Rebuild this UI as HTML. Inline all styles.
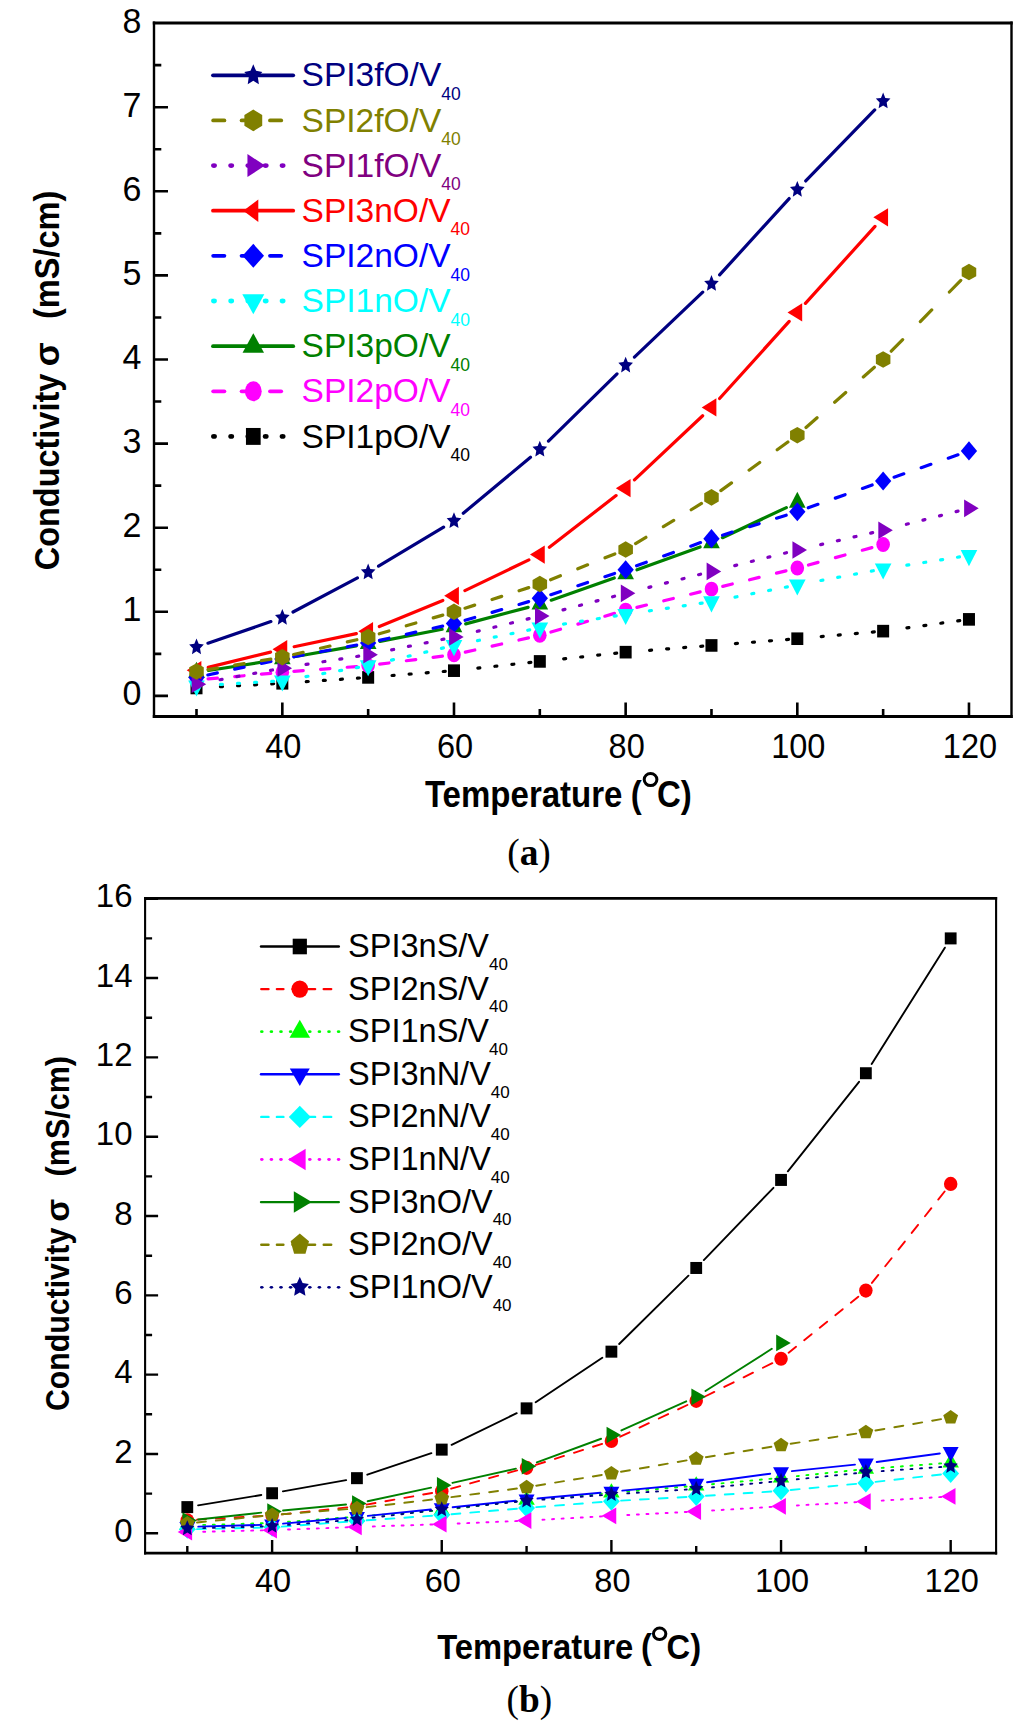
<!DOCTYPE html>
<html><head><meta charset="utf-8"><style>
html,body{margin:0;padding:0;background:#fff;width:1024px;height:1728px;overflow:hidden;}
svg{display:block;}
text{font-family:"Liberation Sans",sans-serif;}
</style></head><body>
<svg width="1024" height="1728" viewBox="0 0 1024 1728">
<rect width="1024" height="1728" fill="#fff"/>
<path d="M152.8,23H1012.7 M152.8,716.4H1012.7" stroke="#000" stroke-width="3" fill="none"/>
<path d="M154,21.5V717.9 M1011.5,21.5V717.9" stroke="#000" stroke-width="2.4" fill="none"/>
<path d="M282.33,716.4V702.4M453.99,716.4V702.4M625.65,716.4V702.4M797.31,716.4V702.4M968.97,716.4V702.4M196.5,716.4V709.1M368.16,716.4V709.1M539.82,716.4V709.1M711.48,716.4V709.1M883.14,716.4V709.1M154,695.9H168M154,611.8H168M154,527.7H168M154,443.6H168M154,359.5H168M154,275.4H168M154,191.3H168M154,107.2H168M154,653.85H161.3M154,569.75H161.3M154,485.65H161.3M154,401.55H161.3M154,317.45H161.3M154,233.35H161.3M154,149.25H161.3M154,65.15H161.3" stroke="#000" stroke-width="2.6" fill="none"/>
<path d="M220.46,686.68L222.46,686.57M237.54,685.74L239.54,685.63M254.61,684.81L256.61,684.7M271.69,683.87L273.68,683.76M306.27,681.64L308.27,681.51M323.33,680.47L325.33,680.34M340.39,679.3L342.39,679.17M357.45,678.13L359.45,678M392.09,675.52L394.08,675.37M409.13,674.19L411.13,674.03M426.18,672.85L428.18,672.69M443.23,671.51L445.22,671.36M477.85,668.1L479.84,667.88M494.85,666.27L496.84,666.05M511.85,664.43L513.84,664.22M528.86,662.6L530.84,662.39M563.68,658.85L565.67,658.63M580.68,657.01L582.67,656.8M597.68,655.18L599.67,654.97M614.69,653.35L616.67,653.14M649.58,650.29L651.57,650.14M666.62,648.96L668.62,648.8M683.67,647.62L685.67,647.46M700.72,646.28L702.71,646.13M735.41,643.56L737.4,643.41M752.45,642.23L754.45,642.07M769.5,640.89L771.5,640.74M786.55,639.56L788.54,639.4M821.22,636.6L823.21,636.43M838.25,635.1L840.24,634.93M855.29,633.6L857.28,633.42M872.32,632.1L874.31,631.92M906.92,627.88L908.9,627.61M923.86,625.56L925.84,625.29M940.8,623.23L942.78,622.96M957.74,620.91L959.72,620.64" stroke="#000000" stroke-width="3.2" stroke-linecap="round" fill="none"/>
<rect x="190.5" y="681.69" width="12" height="12.6" fill="#000000"/>
<rect x="276.33" y="676.99" width="12" height="12.6" fill="#000000"/>
<rect x="362.16" y="671.1" width="12" height="12.6" fill="#000000"/>
<rect x="447.99" y="664.37" width="12" height="12.6" fill="#000000"/>
<rect x="533.82" y="655.12" width="12" height="12.6" fill="#000000"/>
<rect x="619.65" y="645.87" width="12" height="12.6" fill="#000000"/>
<rect x="705.48" y="639.14" width="12" height="12.6" fill="#000000"/>
<rect x="791.31" y="632.41" width="12" height="12.6" fill="#000000"/>
<rect x="877.14" y="624.84" width="12" height="12.6" fill="#000000"/>
<rect x="962.97" y="613.07" width="12" height="12.6" fill="#000000"/>
<path d="M208.06,678.9L217.39,678.08M234.72,676.55L244.06,675.73M261.39,674.2L270.72,673.38M293.89,671.45L303.22,670.71M320.55,669.36L329.88,668.62M347.21,667.27L356.54,666.53M379.67,664.16L389.03,662.97M406.37,660.76L415.73,659.56M433.07,657.36L442.43,656.16M465.31,652.14L474.79,650M492.14,646.09L501.62,643.96M518.97,640.05L528.45,637.91M550.95,632.08L560.54,629.26M577.91,624.15L587.5,621.33M604.88,616.22L614.47,613.41M636.92,607.36L646.43,605.03M663.78,600.78L673.29,598.45M690.65,594.2L700.16,591.87M722.75,586.33L732.26,584M749.61,579.75L759.12,577.42M776.48,573.17L785.99,570.84M808.5,565L818.05,562.38M835.42,557.61L844.98,554.99M862.34,550.23L871.9,547.6" stroke="#FF00FF" stroke-width="3.2" stroke-linecap="round" fill="none"/>
<ellipse cx="196.5" cy="679.92" rx="6.8" ry="7.45" fill="#FF00FF"/>
<ellipse cx="282.33" cy="672.35" rx="6.8" ry="7.45" fill="#FF00FF"/>
<ellipse cx="368.16" cy="665.62" rx="6.8" ry="7.45" fill="#FF00FF"/>
<ellipse cx="453.99" cy="654.69" rx="6.8" ry="7.45" fill="#FF00FF"/>
<ellipse cx="539.82" cy="635.35" rx="6.8" ry="7.45" fill="#FF00FF"/>
<ellipse cx="625.65" cy="610.12" rx="6.8" ry="7.45" fill="#FF00FF"/>
<ellipse cx="711.48" cy="589.09" rx="6.8" ry="7.45" fill="#FF00FF"/>
<ellipse cx="797.31" cy="568.07" rx="6.8" ry="7.45" fill="#FF00FF"/>
<ellipse cx="883.14" cy="544.52" rx="6.8" ry="7.45" fill="#FF00FF"/>
<path d="M208.45,670.48L270.38,660.77M294.25,656.79L356.24,645.86M380.03,641.43L442.12,629.26M465.69,623.84L528.12,607.33M551.23,600.21L614.24,577.98M637.03,569.83L700.1,546.96M722.43,537.69L786.36,507.62" stroke="#008000" stroke-width="3.2" stroke-linecap="round" fill="none"/>
<path d="M196.5,661.65 L204.81,677.7 L188.19,677.7Z" fill="#008000"/>
<path d="M282.33,648.2 L290.64,664.25 L274.02,664.25Z" fill="#008000"/>
<path d="M368.16,633.06 L376.47,649.11 L359.85,649.11Z" fill="#008000"/>
<path d="M453.99,616.24 L462.3,632.29 L445.68,632.29Z" fill="#008000"/>
<path d="M539.82,593.53 L548.13,609.58 L531.51,609.58Z" fill="#008000"/>
<path d="M625.65,563.25 L633.96,579.3 L617.34,579.3Z" fill="#008000"/>
<path d="M711.48,532.14 L719.79,548.19 L703.17,548.19Z" fill="#008000"/>
<path d="M797.31,491.77 L805.62,507.82 L789,507.82Z" fill="#008000"/>
<path d="M220.46,684.4L222.46,684.28M237.53,683.4L239.53,683.28M254.6,682.39L256.6,682.27M271.67,681.39L273.67,681.27M305.97,676.59L307.93,676.25M322.81,673.62L324.77,673.28M339.65,670.65L341.61,670.31M356.49,667.68L358.46,667.34M391.52,660.13L393.47,659.67M408.17,656.22L410.12,655.76M424.81,652.3L426.76,651.84M441.46,648.39L443.41,647.93M477.5,640.6L479.46,640.2M494.25,637.16L496.21,636.75M511,633.71L512.95,633.31M527.74,630.26L529.7,629.86M563.53,624.06L565.51,623.75M580.42,621.41L582.4,621.1M597.32,618.76L599.29,618.46M614.21,616.12L616.19,615.81M649.39,610.83L651.37,610.54M666.31,608.35L668.29,608.06M683.23,605.86L685.21,605.57M700.15,603.37L702.13,603.08M735.03,597.09L736.99,596.71M751.81,593.8L753.78,593.42M768.59,590.52L770.56,590.13M785.37,587.23L787.34,586.84M820.9,580.5L822.87,580.13M837.72,577.37L839.68,577M854.53,574.24L856.49,573.87M871.34,571.11L873.3,570.74M906.85,565.19L908.83,564.88M923.74,562.54L925.72,562.23M940.64,559.89L942.61,559.59M957.53,557.25L959.51,556.94" stroke="#00FFFF" stroke-width="3.2" stroke-linecap="round" fill="none"/>
<path d="M196.5,696.51 L204.81,680.46 L188.19,680.46Z" fill="#00FFFF"/>
<path d="M282.33,691.46 L290.64,675.41 L274.02,675.41Z" fill="#00FFFF"/>
<path d="M368.16,676.32 L376.47,660.27 L359.85,660.27Z" fill="#00FFFF"/>
<path d="M453.99,656.14 L462.3,640.09 L445.68,640.09Z" fill="#00FFFF"/>
<path d="M539.82,638.48 L548.13,622.43 L531.51,622.43Z" fill="#00FFFF"/>
<path d="M625.65,625.02 L633.96,608.97 L617.34,608.97Z" fill="#00FFFF"/>
<path d="M711.48,612.41 L719.79,596.36 L703.17,596.36Z" fill="#00FFFF"/>
<path d="M797.31,595.59 L805.62,579.54 L789,579.54Z" fill="#00FFFF"/>
<path d="M883.14,579.61 L891.45,563.56 L874.83,563.56Z" fill="#00FFFF"/>
<path d="M968.97,566.15 L977.28,550.1 L960.66,550.1Z" fill="#00FFFF"/>
<path d="M207.84,674.95L217.3,672.91M234.66,669.17L244.12,667.13M261.47,663.39L270.94,661.35M293.73,656.77L303.16,655.02M320.51,651.79L329.93,650.03M347.28,646.8L356.7,645.05M379.48,640.37L388.96,638.23M406.31,634.32L415.79,632.18M433.14,628.27L442.62,626.14M465.12,620.3L474.71,617.48M492.08,612.38L501.67,609.56M519.05,604.45L528.64,601.63M550.83,594.68L560.49,591.46M577.87,585.67L587.54,582.45M604.92,576.65L614.59,573.43M636.56,565.8L646.28,562.27M663.67,555.96L673.4,552.44M690.79,546.13L700.52,542.61M722.55,535.16L732.18,532.14M749.55,526.69L759.18,523.68M776.56,518.23L786.19,515.21M808.23,507.81L817.95,504.34M835.34,498.12L845.06,494.64M862.45,488.43L872.16,484.95M894.09,477.18L903.79,473.78M921.18,467.68L930.88,464.28M948.27,458.18L957.97,454.78" stroke="#0000FF" stroke-width="3.2" stroke-linecap="round" fill="none"/>
<path d="M196.5,667.85 L204.65,677.4 L196.5,686.95 L188.35,677.4Z" fill="#0000FF"/>
<path d="M282.33,649.35 L290.48,658.9 L282.33,668.45 L274.18,658.9Z" fill="#0000FF"/>
<path d="M368.16,633.37 L376.31,642.92 L368.16,652.47 L360.01,642.92Z" fill="#0000FF"/>
<path d="M453.99,614.02 L462.14,623.57 L453.99,633.12 L445.84,623.57Z" fill="#0000FF"/>
<path d="M539.82,588.79 L547.97,598.34 L539.82,607.89 L531.67,598.34Z" fill="#0000FF"/>
<path d="M625.65,560.2 L633.8,569.75 L625.65,579.3 L617.5,569.75Z" fill="#0000FF"/>
<path d="M711.48,529.08 L719.63,538.63 L711.48,548.18 L703.33,538.63Z" fill="#0000FF"/>
<path d="M797.31,502.17 L805.46,511.72 L797.31,521.27 L789.16,511.72Z" fill="#0000FF"/>
<path d="M883.14,471.47 L891.29,481.02 L883.14,490.57 L874.99,481.02Z" fill="#0000FF"/>
<path d="M968.97,441.37 L977.12,450.92 L968.97,460.47 L960.82,450.92Z" fill="#0000FF"/>
<path d="M208.25,667.37L270.58,652.1M294.17,646.73L356.32,633.64M379.35,626.54L442.8,600.43M464.9,590.58L528.91,559.85M549.39,547.21L616.08,495.58M634.46,479.88L702.67,415.73M719.59,398.46L789.2,321.38M805.42,303.42L875.03,226.35" stroke="#FF0000" stroke-width="3.2" stroke-linecap="round" fill="none"/>
<path d="M186.7,670.25 L201.4,661.07 L201.4,679.43Z" fill="#FF0000"/>
<path d="M272.53,649.22 L287.23,640.04 L287.23,658.4Z" fill="#FF0000"/>
<path d="M358.36,631.14 L373.06,621.96 L373.06,640.32Z" fill="#FF0000"/>
<path d="M444.19,595.82 L458.89,586.64 L458.89,605Z" fill="#FF0000"/>
<path d="M530.02,554.61 L544.72,545.43 L544.72,563.79Z" fill="#FF0000"/>
<path d="M615.85,488.17 L630.55,478.99 L630.55,497.35Z" fill="#FF0000"/>
<path d="M701.68,407.44 L716.38,398.26 L716.38,416.62Z" fill="#FF0000"/>
<path d="M787.51,312.4 L802.21,303.22 L802.21,321.58Z" fill="#FF0000"/>
<path d="M873.34,217.37 L888.04,208.19 L888.04,226.55Z" fill="#FF0000"/>
<path d="M220.09,679.73L222.06,679.37M236.91,676.6L238.87,676.24M253.72,673.47L255.68,673.11M270.53,670.34L272.49,669.98M306.04,664.43L308.02,664.12M322.93,661.78L324.91,661.47M339.83,659.13L341.8,658.82M356.72,656.48L358.7,656.17M391.67,649.85L393.63,649.45M408.42,646.41L410.38,646M425.17,642.96L427.12,642.56M441.91,639.51L443.87,639.11M477.3,631.32L479.24,630.84M493.91,627.25L495.85,626.78M510.52,623.18L512.46,622.71M527.13,619.11L529.07,618.64M563.02,609.87L564.96,609.36M579.55,605.49L581.49,604.98M596.08,601.12L598.02,600.61M612.62,596.75L614.55,596.23M648.91,587.37L650.85,586.88M665.48,583.15L667.42,582.66M682.05,578.93L683.99,578.44M698.62,574.71L700.56,574.21M734.76,565.61L736.7,565.13M751.35,561.47L753.29,560.98M767.94,557.32L769.88,556.84M784.53,553.18L786.47,552.69M820.7,544.6L822.65,544.15M837.36,540.76L839.31,540.32M854.03,536.93L855.97,536.48M870.69,533.09L872.64,532.64M906.4,524.3L908.34,523.8M922.97,520.08L924.91,519.58M939.54,515.85L941.48,515.36M956.11,511.63L958.05,511.14" stroke="#8000C0" stroke-width="3.2" stroke-linecap="round" fill="none"/>
<path d="M206.2,684.13 L191.65,675.29 L191.65,692.96Z" fill="#8000C0"/>
<path d="M292.03,668.15 L277.48,659.31 L277.48,676.98Z" fill="#8000C0"/>
<path d="M377.86,654.69 L363.31,645.86 L363.31,663.52Z" fill="#8000C0"/>
<path d="M463.69,637.03 L449.14,628.2 L449.14,645.86Z" fill="#8000C0"/>
<path d="M549.52,616 L534.97,607.17 L534.97,624.84Z" fill="#8000C0"/>
<path d="M635.35,593.3 L620.8,584.46 L620.8,602.13Z" fill="#8000C0"/>
<path d="M721.18,571.43 L706.63,562.6 L706.63,580.27Z" fill="#8000C0"/>
<path d="M807.01,549.99 L792.46,541.15 L792.46,558.82Z" fill="#8000C0"/>
<path d="M892.84,530.22 L878.29,521.39 L878.29,539.06Z" fill="#8000C0"/>
<path d="M978.67,508.36 L964.12,499.52 L964.12,517.19Z" fill="#8000C0"/>
<path d="M207.94,669.61L217.35,668.04M234.69,665.15L244.09,663.58M261.43,660.7L270.83,659.13M293.62,654.56L303.12,652.33M320.47,648.24L329.97,646.01M347.32,641.93L356.81,639.7M379.29,633.76L388.88,630.94M406.25,625.83L415.84,623.01M433.22,617.91L442.81,615.09M465.03,608.23L474.67,605.11M492.05,599.49L501.7,596.37M519.08,590.75L528.73,587.63M550.58,579.72L560.4,575.78M577.8,568.79L587.61,564.85M605.02,557.85L614.83,553.91M635.56,543.54L645.89,537.27M663.37,526.65L673.7,520.38M691.19,509.75L701.51,503.48M720.87,490.61L731.51,482.9M749.05,470.18L759.69,462.47M777.22,449.76L787.86,442.04M806.01,427.52L817.07,417.77M834.67,402.25L845.73,392.49M863.33,376.97L874.38,367.22M891.26,351.22L902.67,339.6M920.32,321.61L931.73,309.99M949.38,292L960.79,280.37" stroke="#808000" stroke-width="3.2" stroke-linecap="round" fill="none"/>
<path d="M196.5,663.21 L203.77,667.36 L203.77,675.66 L196.5,679.81 L189.23,675.66 L189.23,667.36Z" fill="#808000"/>
<path d="M282.33,648.91 L289.6,653.06 L289.6,661.36 L282.33,665.51 L275.06,661.36 L275.06,653.06Z" fill="#808000"/>
<path d="M368.16,628.73 L375.43,632.88 L375.43,641.18 L368.16,645.33 L360.89,641.18 L360.89,632.88Z" fill="#808000"/>
<path d="M453.99,603.5 L461.26,607.65 L461.26,615.95 L453.99,620.1 L446.72,615.95 L446.72,607.65Z" fill="#808000"/>
<path d="M539.82,575.75 L547.09,579.9 L547.09,588.2 L539.82,592.35 L532.55,588.2 L532.55,579.9Z" fill="#808000"/>
<path d="M625.65,541.27 L632.92,545.42 L632.92,553.72 L625.65,557.87 L618.38,553.72 L618.38,545.42Z" fill="#808000"/>
<path d="M711.48,489.12 L718.75,493.27 L718.75,501.57 L711.48,505.72 L704.21,501.57 L704.21,493.27Z" fill="#808000"/>
<path d="M797.31,426.89 L804.58,431.04 L804.58,439.34 L797.31,443.49 L790.04,439.34 L790.04,431.04Z" fill="#808000"/>
<path d="M883.14,351.2 L890.41,355.35 L890.41,363.65 L883.14,367.8 L875.87,363.65 L875.87,355.35Z" fill="#808000"/>
<path d="M968.97,263.74 L976.24,267.89 L976.24,276.19 L968.97,280.34 L961.7,276.19 L961.7,267.89Z" fill="#808000"/>
<path d="M207.95,643.2L270.88,621.61M293.03,612.03L357.46,577.93M378.55,566.07L443.6,527.18M463.29,513.23L530.52,457.23M548.46,441.02L617.01,373.86M634.42,357.05L702.71,292.15M719.63,274.87L789.16,198.56M805.74,180.94L874.71,109.99" stroke="#000080" stroke-width="3.2" stroke-linecap="round" fill="none"/>
<path d="M196.5,638.42 L198.67,643.74 L203.82,644.43 L200.02,648.41 L201.03,654.16 L196.5,651.3 L191.97,654.16 L192.98,648.41 L189.18,644.43 L194.33,643.74Z" fill="#000080"/>
<path d="M282.33,608.99 L284.5,614.31 L289.65,615 L285.85,618.98 L286.86,624.73 L282.33,621.86 L277.8,624.73 L278.81,618.98 L275.01,615 L280.16,614.31Z" fill="#000080"/>
<path d="M368.16,563.57 L370.33,568.89 L375.48,569.58 L371.68,573.56 L372.69,579.31 L368.16,576.45 L363.63,579.31 L364.64,573.56 L360.84,569.58 L365.99,568.89Z" fill="#000080"/>
<path d="M453.99,512.27 L456.16,517.59 L461.31,518.28 L457.51,522.26 L458.52,528.01 L453.99,525.15 L449.46,528.01 L450.47,522.26 L446.67,518.28 L451.82,517.59Z" fill="#000080"/>
<path d="M539.82,440.79 L541.99,446.11 L547.14,446.8 L543.34,450.78 L544.35,456.53 L539.82,453.66 L535.29,456.53 L536.3,450.78 L532.5,446.8 L537.65,446.11Z" fill="#000080"/>
<path d="M625.65,356.69 L627.82,362.01 L632.97,362.7 L629.17,366.68 L630.18,372.43 L625.65,369.56 L621.12,372.43 L622.13,366.68 L618.33,362.7 L623.48,362.01Z" fill="#000080"/>
<path d="M711.48,275.11 L713.65,280.43 L718.8,281.12 L715,285.1 L716.01,290.85 L711.48,287.99 L706.95,290.85 L707.96,285.1 L704.16,281.12 L709.31,280.43Z" fill="#000080"/>
<path d="M797.31,180.92 L799.48,186.24 L804.63,186.93 L800.83,190.91 L801.84,196.66 L797.31,193.79 L792.78,196.66 L793.79,190.91 L789.99,186.93 L795.14,186.24Z" fill="#000080"/>
<path d="M883.14,92.61 L885.31,97.93 L890.46,98.62 L886.66,102.6 L887.67,108.35 L883.14,105.49 L878.61,108.35 L879.62,102.6 L875.82,98.62 L880.97,97.93Z" fill="#000080"/>
<line x1="213" y1="75.3" x2="293.2" y2="75.3" stroke="#000080" stroke-width="3.8" stroke-linecap="round"/>
<path d="M253.3,64.3 L256.09,70.85 L262.34,71.9 L257.82,77 L258.88,84.2 L253.3,80.8 L247.72,84.2 L248.78,77 L244.26,71.9 L250.51,70.85Z" fill="#000080"/>
<text x="301.6" y="86.4" font-size="33.5" fill="#000080">SPI3fO/V<tspan font-size="17.5" dy="13.6">40</tspan></text>
<line x1="213.2" y1="120.44" x2="224.4" y2="120.44" stroke="#808000" stroke-width="3.8" stroke-linecap="round"/>
<line x1="241.6" y1="120.44" x2="252.8" y2="120.44" stroke="#808000" stroke-width="3.8" stroke-linecap="round"/>
<line x1="270" y1="120.44" x2="281.2" y2="120.44" stroke="#808000" stroke-width="3.8" stroke-linecap="round"/>
<path d="M253.3,109.59 L262.22,115.02 L262.22,125.86 L253.3,131.29 L244.38,125.86 L244.38,115.02Z" fill="#808000"/>
<text x="301.6" y="131.54" font-size="33.5" fill="#808000">SPI2fO/V<tspan font-size="17.5" dy="13.6">40</tspan></text>
<ellipse cx="214" cy="165.58" rx="2.9" ry="2.4" fill="#8000C0"/>
<ellipse cx="231.2" cy="165.58" rx="2.9" ry="2.4" fill="#8000C0"/>
<ellipse cx="248.4" cy="165.58" rx="2.9" ry="2.4" fill="#8000C0"/>
<ellipse cx="265.7" cy="165.58" rx="2.9" ry="2.4" fill="#8000C0"/>
<ellipse cx="282.6" cy="165.58" rx="2.9" ry="2.4" fill="#8000C0"/>
<path d="M265,165.58 L247.45,154.06 L247.45,177.1Z" fill="#8000C0"/>
<text x="301.6" y="176.68" font-size="33.5" fill="#800080">SPI1fO/V<tspan font-size="17.5" dy="13.6">40</tspan></text>
<line x1="213" y1="210.72" x2="293.2" y2="210.72" stroke="#FF0000" stroke-width="3.8" stroke-linecap="round"/>
<path d="M243.3,210.72 L258.3,199.55 L258.3,221.89Z" fill="#FF0000"/>
<text x="301.6" y="221.82" font-size="33.5" fill="#FF0000">SPI3nO/V<tspan font-size="17.5" dy="13.6">40</tspan></text>
<line x1="213.2" y1="255.86" x2="224.4" y2="255.86" stroke="#0000FF" stroke-width="3.8" stroke-linecap="round"/>
<line x1="241.6" y1="255.86" x2="252.8" y2="255.86" stroke="#0000FF" stroke-width="3.8" stroke-linecap="round"/>
<line x1="270" y1="255.86" x2="281.2" y2="255.86" stroke="#0000FF" stroke-width="3.8" stroke-linecap="round"/>
<path d="M253.3,243.86 L264.05,255.86 L253.3,267.86 L242.55,255.86Z" fill="#0000FF"/>
<text x="301.6" y="266.96" font-size="33.5" fill="#0000FF">SPI2nO/V<tspan font-size="17.5" dy="13.6">40</tspan></text>
<ellipse cx="214" cy="301" rx="2.9" ry="2.4" fill="#00FFFF"/>
<ellipse cx="231.2" cy="301" rx="2.9" ry="2.4" fill="#00FFFF"/>
<ellipse cx="248.4" cy="301" rx="2.9" ry="2.4" fill="#00FFFF"/>
<ellipse cx="265.7" cy="301" rx="2.9" ry="2.4" fill="#00FFFF"/>
<ellipse cx="282.6" cy="301" rx="2.9" ry="2.4" fill="#00FFFF"/>
<path d="M253.3,314.3 L264.3,294.35 L242.3,294.35Z" fill="#00FFFF"/>
<text x="301.6" y="312.1" font-size="33.5" fill="#00FFFF">SPI1nO/V<tspan font-size="17.5" dy="13.6">40</tspan></text>
<line x1="213" y1="346.14" x2="293.2" y2="346.14" stroke="#008000" stroke-width="3.8" stroke-linecap="round"/>
<path d="M253.3,333.14 L264.04,352.64 L242.56,352.64Z" fill="#008000"/>
<text x="301.6" y="357.24" font-size="33.5" fill="#008000">SPI3pO/V<tspan font-size="17.5" dy="13.6">40</tspan></text>
<line x1="213.2" y1="391.28" x2="224.4" y2="391.28" stroke="#FF00FF" stroke-width="3.8" stroke-linecap="round"/>
<line x1="241.6" y1="391.28" x2="252.8" y2="391.28" stroke="#FF00FF" stroke-width="3.8" stroke-linecap="round"/>
<line x1="270" y1="391.28" x2="281.2" y2="391.28" stroke="#FF00FF" stroke-width="3.8" stroke-linecap="round"/>
<ellipse cx="253.3" cy="391.28" rx="8.4" ry="10" fill="#FF00FF"/>
<text x="301.6" y="402.38" font-size="33.5" fill="#FF00FF">SPI2pO/V<tspan font-size="17.5" dy="13.6">40</tspan></text>
<ellipse cx="214" cy="436.42" rx="2.9" ry="2.4" fill="#000000"/>
<ellipse cx="231.2" cy="436.42" rx="2.9" ry="2.4" fill="#000000"/>
<ellipse cx="248.4" cy="436.42" rx="2.9" ry="2.4" fill="#000000"/>
<ellipse cx="265.7" cy="436.42" rx="2.9" ry="2.4" fill="#000000"/>
<ellipse cx="282.6" cy="436.42" rx="2.9" ry="2.4" fill="#000000"/>
<rect x="245.95" y="427.97" width="14.7" height="16.9" fill="#000000"/>
<text x="301.6" y="447.52" font-size="33.5" fill="#000000">SPI1pO/V<tspan font-size="17.5" dy="13.6">40</tspan></text>
<text transform="translate(141.3,705.3) scale(1,1.04)" font-size="34" text-anchor="end">0</text>
<text transform="translate(141.3,621.2) scale(1,1.04)" font-size="34" text-anchor="end">1</text>
<text transform="translate(141.3,537.1) scale(1,1.04)" font-size="34" text-anchor="end">2</text>
<text transform="translate(141.3,453) scale(1,1.04)" font-size="34" text-anchor="end">3</text>
<text transform="translate(141.3,368.9) scale(1,1.04)" font-size="34" text-anchor="end">4</text>
<text transform="translate(141.3,284.8) scale(1,1.04)" font-size="34" text-anchor="end">5</text>
<text transform="translate(141.3,200.7) scale(1,1.04)" font-size="34" text-anchor="end">6</text>
<text transform="translate(141.3,116.6) scale(1,1.04)" font-size="34" text-anchor="end">7</text>
<text transform="translate(141.3,32.5) scale(1,1.04)" font-size="34" text-anchor="end">8</text>
<text transform="translate(283.33,758.1) scale(1,1.07)" font-size="32.5" text-anchor="middle">40</text>
<text transform="translate(454.99,758.1) scale(1,1.07)" font-size="32.5" text-anchor="middle">60</text>
<text transform="translate(626.65,758.1) scale(1,1.07)" font-size="32.5" text-anchor="middle">80</text>
<text transform="translate(798.31,758.1) scale(1,1.07)" font-size="32.5" text-anchor="middle">100</text>
<text transform="translate(969.97,758.1) scale(1,1.07)" font-size="32.5" text-anchor="middle">120</text>
<text transform="translate(424.9,807.2) scale(0.9050,1)" font-size="36.5" font-weight="bold">Temperature</text>
<text transform="translate(630.85,807.2) scale(0.9050,1)" font-size="36.5" font-weight="bold">(</text>
<text transform="translate(656.9,807.2) scale(0.9050,1)" font-size="36.5" font-weight="bold">C)</text>
<ellipse cx="650.55" cy="779.55" rx="6.35" ry="6.05" fill="none" stroke="#000" stroke-width="3"/>
<text transform="translate(59.3,570.3) rotate(-90) scale(0.9280,1)" font-size="35" font-weight="bold">Conductivity</text>
<text transform="translate(59.3,366.2) rotate(-90)" font-size="35" font-weight="bold">σ</text>
<text transform="translate(59.3,319) rotate(-90) scale(0.9290,1)" font-size="35" font-weight="bold">(mS/cm)</text>
<text x="507.2" y="865.2" font-size="37.4" style="font-family:'Liberation Serif'">(<tspan font-weight="bold">a</tspan>)</text>
<path d="M144.05,898.3H997.15 M144.05,1553.1H997.15" stroke="#000" stroke-width="2.7" fill="none"/>
<path d="M145.1,896.95V1554.45 M996.1,896.95V1554.45" stroke="#000" stroke-width="2.1" fill="none"/>
<path d="M272.12,1553.1V1540.1M441.76,1553.1V1540.1M611.4,1553.1V1540.1M781.04,1553.1V1540.1M950.68,1553.1V1540.1M187.3,1553.1V1546.1M356.94,1553.1V1546.1M526.58,1553.1V1546.1M696.22,1553.1V1546.1M865.86,1553.1V1546.1M145.1,1533.3H158.1M145.1,1453.98H158.1M145.1,1374.66H158.1M145.1,1295.34H158.1M145.1,1216.02H158.1M145.1,1136.7H158.1M145.1,1057.38H158.1M145.1,978.06H158.1M145.1,898.74H158.1M145.1,1493.64H152.1M145.1,1414.32H152.1M145.1,1335H152.1M145.1,1255.68H152.1M145.1,1176.36H152.1M145.1,1097.04H152.1M145.1,1017.72H152.1M145.1,938.4H152.1" stroke="#000" stroke-width="2.4" fill="none"/>
<path d="M198.11,1505.36L261.31,1495.01M282.9,1491.33L346.16,1480.09M367.32,1474.68L431.38,1453.11M451.61,1444.83L516.73,1413.16M535.68,1402.28L602.3,1357.74M619.19,1343.97L688.43,1275.66M703.82,1260.09L773.44,1187.82M787.85,1171.36L859.05,1081.82M871.69,1063.98L944.85,947.67" stroke="#000000" stroke-width="1.9" stroke-linecap="round" fill="none"/>
<rect x="181.4" y="1501.12" width="11.8" height="12" fill="#000000"/>
<rect x="266.22" y="1487.24" width="11.8" height="12" fill="#000000"/>
<rect x="351.04" y="1472.17" width="11.8" height="12" fill="#000000"/>
<rect x="435.86" y="1443.62" width="11.8" height="12" fill="#000000"/>
<rect x="520.68" y="1402.37" width="11.8" height="12" fill="#000000"/>
<rect x="605.5" y="1345.66" width="11.8" height="12" fill="#000000"/>
<rect x="690.32" y="1261.97" width="11.8" height="12" fill="#000000"/>
<rect x="775.14" y="1173.93" width="11.8" height="12" fill="#000000"/>
<rect x="859.96" y="1067.24" width="11.8" height="12" fill="#000000"/>
<rect x="944.78" y="932.4" width="11.8" height="12" fill="#000000"/>
<path d="M197.03,1519.67L205.89,1519.17M215.87,1518.61L224.72,1518.11M234.7,1517.55L243.55,1517.06M253.53,1516.5L262.39,1516M281.81,1514.41L290.69,1513.46M300.67,1512.38L309.54,1511.43M319.52,1510.36L328.39,1509.4M338.37,1508.33L347.25,1507.37M366.54,1504.63L375.46,1503.04M385.44,1501.27L394.36,1499.68M404.34,1497.91L413.26,1496.32M423.24,1494.55L432.16,1492.97M451.16,1488.67L460.18,1486.18M470.16,1483.43L479.18,1480.94M489.16,1478.18L498.18,1475.7M508.16,1472.94L517.18,1470.45M535.87,1464.91L544.94,1462.02M554.93,1458.85L564,1455.96M573.98,1452.79L583.05,1449.91M593.04,1446.73L602.11,1443.85M620.22,1436.73L629.52,1432.34M639.51,1427.62L648.81,1423.22M658.81,1418.5L668.11,1414.11M678.1,1409.39L687.4,1405M704.96,1396.51L714.29,1391.88M724.29,1386.92L733.63,1382.29M743.63,1377.34L752.97,1372.71M762.97,1367.75L772.3,1363.13M788.64,1352.69L796.04,1346.73M804.19,1340.18L811.6,1334.22M819.75,1327.66L827.15,1321.71M835.3,1315.15L842.71,1309.2M850.86,1302.64L858.26,1296.69M871.93,1282.95L878.32,1274.91M885.19,1266.27L891.58,1258.24M898.45,1249.59L904.83,1241.56M911.71,1232.92L918.09,1224.88M924.96,1216.24L931.35,1208.2M938.22,1199.56L944.61,1191.53" stroke="#FF0000" stroke-width="1.9" stroke-linecap="round" fill="none"/>
<ellipse cx="187.3" cy="1520.21" rx="6.75" ry="7.05" fill="#FF0000"/>
<ellipse cx="272.12" cy="1515.45" rx="6.75" ry="7.05" fill="#FF0000"/>
<ellipse cx="356.94" cy="1506.33" rx="6.75" ry="7.05" fill="#FF0000"/>
<ellipse cx="441.76" cy="1491.26" rx="6.75" ry="7.05" fill="#FF0000"/>
<ellipse cx="526.58" cy="1467.86" rx="6.75" ry="7.05" fill="#FF0000"/>
<ellipse cx="611.4" cy="1440.89" rx="6.75" ry="7.05" fill="#FF0000"/>
<ellipse cx="696.22" cy="1400.84" rx="6.75" ry="7.05" fill="#FF0000"/>
<ellipse cx="781.04" cy="1358.8" rx="6.75" ry="7.05" fill="#FF0000"/>
<ellipse cx="865.86" cy="1290.58" rx="6.75" ry="7.05" fill="#FF0000"/>
<ellipse cx="950.68" cy="1183.9" rx="6.75" ry="7.05" fill="#FF0000"/>
<path d="M203.19,1524.92L205.19,1524.87M212.79,1524.65L214.79,1524.6M222.39,1524.38L224.39,1524.33M231.98,1524.11L233.98,1524.06M241.58,1523.85L243.58,1523.79M251.17,1523.58L253.17,1523.52M260.77,1523.31L262.77,1523.25M287.98,1521.8L289.97,1521.65M297.55,1521.09L299.54,1520.94M307.12,1520.37L309.12,1520.22M316.7,1519.65L318.69,1519.5M326.27,1518.94L328.26,1518.79M335.84,1518.22L337.84,1518.07M345.42,1517.51L347.41,1517.36M372.8,1515.46L374.79,1515.31M382.37,1514.74L384.36,1514.59M391.94,1514.02L393.94,1513.87M401.52,1513.31L403.51,1513.16M411.09,1512.59L413.08,1512.44M420.66,1511.88L422.66,1511.73M430.24,1511.16L432.23,1511.01M457.54,1508.38L459.53,1508.14M467.07,1507.22L469.06,1506.98M476.6,1506.06L478.59,1505.82M486.13,1504.9L488.12,1504.66M495.66,1503.74L497.65,1503.5M505.19,1502.59L507.18,1502.34M514.72,1501.43L516.71,1501.19M542.42,1498.65L544.42,1498.48M551.99,1497.85L553.98,1497.68M561.56,1497.04L563.55,1496.87M571.12,1496.24L573.12,1496.07M580.69,1495.43L582.68,1495.26M590.25,1494.63L592.25,1494.46M599.82,1493.82L601.81,1493.65M627.24,1491.51L629.24,1491.35M636.81,1490.71L638.8,1490.54M646.38,1489.9L648.37,1489.74M655.94,1489.1L657.94,1488.93M665.51,1488.29L667.5,1488.13M675.07,1487.49L677.07,1487.32M684.64,1486.68L686.63,1486.51M712.05,1484.23L714.04,1484.04M721.61,1483.33L723.6,1483.15M731.17,1482.44L733.16,1482.25M740.73,1481.55L742.72,1481.36M750.28,1480.65L752.28,1480.47M759.84,1479.76L761.83,1479.57M769.4,1478.86L771.39,1478.68M796.86,1476.15L798.85,1475.94M806.41,1475.17L808.4,1474.96M815.96,1474.18L817.95,1473.98M825.51,1473.2L827.49,1473M835.05,1472.22L837.04,1472.01M844.6,1471.24L846.59,1471.03M854.15,1470.25L856.14,1470.05M881.72,1467.86L883.71,1467.72M891.29,1467.15L893.28,1467M900.86,1466.43L902.86,1466.28M910.44,1465.72L912.43,1465.57M920.01,1465L922,1464.85M929.58,1464.28L931.58,1464.13M939.16,1463.57L941.15,1463.42" stroke="#00FF00" stroke-width="1.9" stroke-linecap="round" fill="none"/>
<path d="M187.3,1515.87 L195.53,1530.12 L179.07,1530.12Z" fill="#00FF00"/>
<path d="M272.12,1513.49 L280.35,1527.74 L263.89,1527.74Z" fill="#00FF00"/>
<path d="M356.94,1507.14 L365.17,1521.39 L348.71,1521.39Z" fill="#00FF00"/>
<path d="M441.76,1500.8 L449.99,1515.05 L433.53,1515.05Z" fill="#00FF00"/>
<path d="M526.58,1490.49 L534.81,1504.74 L518.35,1504.74Z" fill="#00FF00"/>
<path d="M611.4,1483.35 L619.63,1497.6 L603.17,1497.6Z" fill="#00FF00"/>
<path d="M696.22,1476.21 L704.45,1490.46 L687.99,1490.46Z" fill="#00FF00"/>
<path d="M781.04,1468.28 L789.27,1482.53 L772.81,1482.53Z" fill="#00FF00"/>
<path d="M865.86,1459.55 L874.09,1473.8 L857.63,1473.8Z" fill="#00FF00"/>
<path d="M950.68,1453.21 L958.91,1467.46 L942.45,1467.46Z" fill="#00FF00"/>
<path d="M198.25,1526.65L261.17,1524.88M283.03,1523.61L346.03,1518.01M367.83,1515.92L430.87,1509.43M452.65,1507.19L515.69,1500.71M537.48,1498.57L600.5,1492.68M622.3,1490.64L685.32,1484.74M707.07,1482.25L770.19,1473.69M791.93,1471.1L854.97,1464.62M876.71,1462.03L939.83,1453.47" stroke="#0000FF" stroke-width="1.9" stroke-linecap="round" fill="none"/>
<path d="M187.3,1536.95 L195.27,1521.95 L179.33,1521.95Z" fill="#0000FF"/>
<path d="M272.12,1534.57 L280.09,1519.57 L264.15,1519.57Z" fill="#0000FF"/>
<path d="M356.94,1527.04 L364.91,1512.04 L348.97,1512.04Z" fill="#0000FF"/>
<path d="M441.76,1518.31 L449.73,1503.31 L433.79,1503.31Z" fill="#0000FF"/>
<path d="M526.58,1509.59 L534.55,1494.59 L518.61,1494.59Z" fill="#0000FF"/>
<path d="M611.4,1501.66 L619.37,1486.66 L603.43,1486.66Z" fill="#0000FF"/>
<path d="M696.22,1493.72 L704.19,1478.72 L688.25,1478.72Z" fill="#0000FF"/>
<path d="M781.04,1482.22 L789.01,1467.22 L773.07,1467.22Z" fill="#0000FF"/>
<path d="M865.86,1473.5 L873.83,1458.5 L857.89,1458.5Z" fill="#0000FF"/>
<path d="M950.68,1462 L958.65,1447 L942.71,1447Z" fill="#0000FF"/>
<path d="M197.05,1529.11L205.9,1528.9M215.87,1528.67L224.72,1528.46M234.7,1528.23L243.55,1528.02M253.52,1527.79L262.37,1527.58M281.84,1526.62L290.7,1525.96M300.68,1525.21L309.54,1524.55M319.52,1523.81L328.38,1523.14M338.36,1522.4L347.22,1521.73M366.67,1520.32L375.53,1519.7M385.5,1519L394.36,1518.38M404.34,1517.68L413.2,1517.06M423.17,1516.36L432.03,1515.74M451.48,1514.24L460.34,1513.49M470.32,1512.65L479.18,1511.91M489.16,1511.07L498.02,1510.32M508,1509.48L516.86,1508.74M536.3,1507.15L545.16,1506.44M555.14,1505.65L564,1504.94M573.98,1504.15L582.84,1503.45M592.82,1502.65L601.68,1501.95M621.13,1500.63L629.99,1500.13M639.97,1499.57L648.82,1499.08M658.8,1498.52L667.65,1498.02M677.63,1497.46L686.49,1496.96M705.95,1495.78L714.81,1495.2M724.78,1494.55L733.64,1493.97M743.62,1493.31L752.48,1492.73M762.45,1492.08L771.31,1491.5M790.75,1489.96L799.62,1489.13M809.59,1488.19L818.46,1487.36M828.44,1486.43L837.31,1485.6M847.28,1484.67L856.15,1483.84M875.55,1481.84L884.43,1480.85M894.4,1479.73L903.28,1478.73M913.26,1477.61L922.14,1476.62M932.11,1475.5L940.99,1474.5" stroke="#00FFFF" stroke-width="1.9" stroke-linecap="round" fill="none"/>
<path d="M187.3,1519.83 L195.7,1529.33 L187.3,1538.83 L178.9,1529.33Z" fill="#00FFFF"/>
<path d="M272.12,1517.85 L280.52,1527.35 L272.12,1536.85 L263.72,1527.35Z" fill="#00FFFF"/>
<path d="M356.94,1511.51 L365.34,1521.01 L356.94,1530.51 L348.54,1521.01Z" fill="#00FFFF"/>
<path d="M441.76,1505.56 L450.16,1515.06 L441.76,1524.56 L433.36,1515.06Z" fill="#00FFFF"/>
<path d="M526.58,1498.42 L534.98,1507.92 L526.58,1517.42 L518.18,1507.92Z" fill="#00FFFF"/>
<path d="M611.4,1491.68 L619.8,1501.18 L611.4,1510.68 L603,1501.18Z" fill="#00FFFF"/>
<path d="M696.22,1486.92 L704.62,1496.42 L696.22,1505.92 L687.82,1496.42Z" fill="#00FFFF"/>
<path d="M781.04,1481.36 L789.44,1490.86 L781.04,1500.36 L772.64,1490.86Z" fill="#00FFFF"/>
<path d="M865.86,1473.43 L874.26,1482.93 L865.86,1492.43 L857.46,1482.93Z" fill="#00FFFF"/>
<path d="M950.68,1463.91 L959.08,1473.41 L950.68,1482.91 L942.28,1473.41Z" fill="#00FFFF"/>
<path d="M203.2,1531.74L205.2,1531.69M212.79,1531.51L214.79,1531.47M222.39,1531.29L224.39,1531.24M231.99,1531.07L233.99,1531.02M241.59,1530.84L243.58,1530.79M251.18,1530.62L253.18,1530.57M260.78,1530.39L262.78,1530.35M288.01,1529.53L290.01,1529.46M297.6,1529.17L299.6,1529.1M307.2,1528.82L309.19,1528.74M316.79,1528.46L318.79,1528.38M326.38,1528.1L328.38,1528.02M335.98,1527.74L337.97,1527.66M345.57,1527.38L347.57,1527.31M372.83,1526.43L374.83,1526.37M382.43,1526.12L384.43,1526.05M392.02,1525.81L394.02,1525.74M401.62,1525.49L403.62,1525.43M411.21,1525.18L413.21,1525.11M420.81,1524.86L422.8,1524.8M430.4,1524.55L432.4,1524.48M457.65,1523.51L459.64,1523.43M467.24,1523.11L469.24,1523.02M476.83,1522.7L478.83,1522.62M486.42,1522.3L488.42,1522.21M496.01,1521.9L498.01,1521.81M505.6,1521.49L507.6,1521.41M515.2,1521.09L517.19,1521M542.46,1519.72L544.45,1519.61M552.04,1519.18L554.04,1519.07M561.62,1518.64L563.62,1518.53M571.21,1518.1L573.21,1517.99M580.79,1517.57L582.79,1517.45M590.38,1517.03L592.38,1516.92M599.96,1516.49L601.96,1516.38M627.28,1515.03L629.28,1514.93M636.87,1514.54L638.86,1514.44M646.45,1514.05L648.45,1513.94M656.04,1513.55L658.04,1513.45M665.63,1513.06L667.63,1512.96M675.22,1512.57L677.21,1512.46M684.8,1512.07L686.8,1511.97M712.09,1510.52L714.09,1510.4M721.67,1509.94L723.67,1509.82M731.26,1509.36L733.25,1509.24M740.84,1508.77L742.83,1508.65M750.42,1508.19L752.42,1508.07M760,1507.61L762,1507.49M769.58,1507.03L771.58,1506.91M796.92,1505.44L798.91,1505.33M806.5,1504.9L808.5,1504.79M816.08,1504.36L818.08,1504.25M825.67,1503.83L827.67,1503.72M835.25,1503.29L837.25,1503.18M844.84,1502.75L846.84,1502.64M854.42,1502.21L856.42,1502.1M881.73,1500.61L883.73,1500.49M891.31,1500.02L893.31,1499.9M900.9,1499.44L902.89,1499.32M910.48,1498.86L912.47,1498.74M920.06,1498.28L922.06,1498.16M929.64,1497.69L931.64,1497.57M939.22,1497.11L941.22,1496.99" stroke="#FF00FF" stroke-width="1.9" stroke-linecap="round" fill="none"/>
<path d="M177.65,1532.11 L192.12,1523.71 L192.12,1540.51Z" fill="#FF00FF"/>
<path d="M262.47,1530.13 L276.94,1521.73 L276.94,1538.53Z" fill="#FF00FF"/>
<path d="M347.29,1526.95 L361.76,1518.55 L361.76,1535.35Z" fill="#FF00FF"/>
<path d="M432.11,1524.18 L446.58,1515.78 L446.58,1532.58Z" fill="#FF00FF"/>
<path d="M516.93,1520.61 L531.4,1512.21 L531.4,1529.01Z" fill="#FF00FF"/>
<path d="M601.75,1515.85 L616.23,1507.45 L616.23,1524.25Z" fill="#FF00FF"/>
<path d="M686.57,1511.49 L701.05,1503.09 L701.05,1519.89Z" fill="#FF00FF"/>
<path d="M771.39,1506.33 L785.87,1497.93 L785.87,1514.73Z" fill="#FF00FF"/>
<path d="M856.21,1501.57 L870.68,1493.17 L870.68,1509.97Z" fill="#FF00FF"/>
<path d="M941.03,1496.42 L955.5,1488.02 L955.5,1504.82Z" fill="#FF00FF"/>
<path d="M198.19,1519.44L261.23,1512.66M283.02,1510.47L346.04,1504.57M367.65,1501.25L431.05,1487.61M452.44,1482.91L515.9,1468.67M536.85,1462.48L601.13,1438.74M621.39,1430.46L686.23,1401.35M705.46,1390.99L771.8,1348.81" stroke="#008000" stroke-width="1.9" stroke-linecap="round" fill="none"/>
<path d="M197,1520.61 L182.45,1512.29 L182.45,1528.92Z" fill="#008000"/>
<path d="M281.82,1511.49 L267.27,1503.17 L267.27,1519.8Z" fill="#008000"/>
<path d="M366.64,1503.56 L352.09,1495.24 L352.09,1511.87Z" fill="#008000"/>
<path d="M451.46,1485.31 L436.91,1477 L436.91,1493.63Z" fill="#008000"/>
<path d="M536.28,1466.27 L521.73,1457.96 L521.73,1474.59Z" fill="#008000"/>
<path d="M621.1,1434.94 L606.55,1426.63 L606.55,1443.26Z" fill="#008000"/>
<path d="M705.92,1396.87 L691.37,1388.56 L691.37,1405.18Z" fill="#008000"/>
<path d="M790.74,1342.93 L776.19,1334.62 L776.19,1351.25Z" fill="#008000"/>
<path d="M197,1522.43L205.87,1521.56M215.85,1520.58L224.72,1519.71M234.7,1518.73L243.57,1517.86M253.55,1516.88L262.42,1516.01M281.84,1514.28L290.7,1513.58M300.68,1512.79L309.54,1512.08M319.52,1511.29L328.38,1510.58M338.36,1509.79L347.22,1509.09M366.62,1507.18L375.5,1506.14M385.48,1504.98L394.36,1503.94M404.34,1502.77L413.22,1501.74M423.2,1500.57L432.08,1499.53M451.43,1497.13L460.32,1495.97M470.29,1494.66L479.18,1493.5M489.16,1492.19L498.05,1491.03M508.02,1489.72L516.91,1488.56M536.2,1485.72L545.11,1484.26M555.09,1482.63L564,1481.17M573.98,1479.54L582.89,1478.08M592.87,1476.45L601.78,1474.99M621.01,1471.75L629.92,1470.21M639.9,1468.48L648.82,1466.94M658.8,1465.21L667.72,1463.67M677.7,1461.94L686.61,1460.4M705.85,1457.21L714.76,1455.79M724.73,1454.21L733.64,1452.79M743.62,1451.2L752.53,1449.79M762.5,1448.2L771.41,1446.79M790.68,1443.77L799.58,1442.39M809.56,1440.85L818.46,1439.48M828.44,1437.94L837.34,1436.57M847.32,1435.03L856.22,1433.65M875.47,1430.5L884.38,1428.96M894.36,1427.24L903.28,1425.69M913.26,1423.97L922.18,1422.42M932.16,1420.7L941.07,1419.15" stroke="#808000" stroke-width="1.9" stroke-linecap="round" fill="none"/>
<path d="M187.3,1515.88 L194.72,1521.07 L191.88,1529.45 L182.72,1529.45 L179.88,1521.07Z" fill="#808000"/>
<path d="M272.12,1507.56 L279.54,1512.74 L276.7,1521.12 L267.54,1521.12 L264.7,1512.74Z" fill="#808000"/>
<path d="M356.94,1500.81 L364.36,1506 L361.52,1514.38 L352.36,1514.38 L349.52,1506Z" fill="#808000"/>
<path d="M441.76,1490.9 L449.18,1496.08 L446.34,1504.47 L437.18,1504.47 L434.34,1496.08Z" fill="#808000"/>
<path d="M526.58,1479.79 L534,1484.98 L531.16,1493.36 L522,1493.36 L519.16,1484.98Z" fill="#808000"/>
<path d="M611.4,1465.91 L618.82,1471.1 L615.98,1479.48 L606.82,1479.48 L603.98,1471.1Z" fill="#808000"/>
<path d="M696.22,1451.24 L703.64,1456.42 L700.8,1464.81 L691.64,1464.81 L688.8,1456.42Z" fill="#808000"/>
<path d="M781.04,1437.75 L788.46,1442.94 L785.62,1451.32 L776.46,1451.32 L773.62,1442.94Z" fill="#808000"/>
<path d="M865.86,1424.67 L873.28,1429.85 L870.44,1438.23 L861.28,1438.23 L858.44,1429.85Z" fill="#808000"/>
<path d="M950.68,1409.99 L958.1,1415.18 L955.26,1423.56 L946.1,1423.56 L943.26,1415.18Z" fill="#808000"/>
<path d="M203.19,1528.09L205.19,1528.04M212.79,1527.83L214.79,1527.77M222.39,1527.56L224.39,1527.5M231.98,1527.29L233.98,1527.23M241.58,1527.02L243.58,1526.96M251.17,1526.75L253.17,1526.69M260.77,1526.48L262.77,1526.42M287.97,1524.9L289.96,1524.74M297.54,1524.14L299.53,1523.98M307.11,1523.38L309.1,1523.22M316.68,1522.62L318.67,1522.46M326.25,1521.86L328.24,1521.7M335.82,1521.1L337.81,1520.94M345.39,1520.34L347.38,1520.18M372.73,1517.57L374.72,1517.34M382.27,1516.46L384.25,1516.23M391.8,1515.34L393.79,1515.11M401.34,1514.23L403.32,1514M410.87,1513.11L412.86,1512.88M420.41,1512L422.39,1511.77M429.94,1510.89L431.93,1510.65M457.58,1507.88L459.57,1507.67M467.13,1506.89L469.12,1506.69M476.68,1505.91L478.67,1505.71M486.23,1504.93L488.21,1504.73M495.77,1503.95L497.76,1503.74M505.32,1502.97L507.31,1502.76M514.87,1501.98L516.86,1501.78M542.44,1499.59L544.43,1499.44M552.01,1498.88L554,1498.73M561.58,1498.16L563.58,1498.01M571.16,1497.44L573.15,1497.29M580.73,1496.73L582.72,1496.58M590.3,1496.01L592.3,1495.86M599.88,1495.3L601.87,1495.15M627.27,1493.39L629.26,1493.26M636.85,1492.77L638.84,1492.64M646.43,1492.14L648.42,1492.01M656,1491.51L658,1491.38M665.58,1490.89L667.58,1490.76M675.16,1490.26L677.16,1490.13M684.74,1489.63L686.74,1489.5M712.05,1487.4L714.04,1487.21M721.61,1486.51L723.6,1486.32M731.17,1485.61L733.16,1485.43M740.73,1484.72L742.72,1484.53M750.28,1483.82L752.28,1483.64M759.84,1482.93L761.83,1482.74M769.4,1482.04L771.39,1481.85M796.86,1479.32L798.85,1479.12M806.41,1478.34L808.4,1478.13M815.96,1477.36L817.95,1477.15M825.51,1476.37L827.49,1476.17M835.05,1475.39L837.04,1475.19M844.6,1474.41L846.59,1474.21M854.15,1473.43L856.14,1473.22M881.72,1471.11L883.72,1470.97M891.3,1470.44L893.29,1470.3M900.87,1469.77L902.87,1469.63M910.45,1469.1L912.45,1468.96M920.03,1468.42L922.02,1468.28M929.6,1467.75L931.6,1467.61M939.18,1467.08L941.17,1466.94" stroke="#000080" stroke-width="1.9" stroke-linecap="round" fill="none"/>
<path d="M187.3,1520.34 L189.42,1525.36 L194.43,1526.01 L190.72,1529.76 L191.71,1535.17 L187.3,1532.48 L182.89,1535.17 L183.88,1529.76 L180.17,1526.01 L185.18,1525.36Z" fill="#000080"/>
<path d="M272.12,1517.96 L274.24,1522.98 L279.25,1523.63 L275.54,1527.38 L276.53,1532.8 L272.12,1530.1 L267.71,1532.8 L268.7,1527.38 L264.99,1523.63 L270,1522.98Z" fill="#000080"/>
<path d="M356.94,1511.22 L359.06,1516.23 L364.07,1516.89 L360.36,1520.64 L361.35,1526.05 L356.94,1523.35 L352.53,1526.05 L353.52,1520.64 L349.81,1516.89 L354.82,1516.23Z" fill="#000080"/>
<path d="M441.76,1501.3 L443.88,1506.32 L448.89,1506.97 L445.18,1510.72 L446.17,1516.14 L441.76,1513.44 L437.35,1516.14 L438.34,1510.72 L434.63,1506.97 L439.64,1506.32Z" fill="#000080"/>
<path d="M526.58,1492.58 L528.7,1497.59 L533.71,1498.24 L530,1502 L530.99,1507.41 L526.58,1504.71 L522.17,1507.41 L523.16,1502 L519.45,1498.24 L524.46,1497.59Z" fill="#000080"/>
<path d="M611.4,1486.23 L613.52,1491.25 L618.53,1491.9 L614.82,1495.65 L615.81,1501.07 L611.4,1498.37 L606.99,1501.07 L607.98,1495.65 L604.27,1491.9 L609.28,1491.25Z" fill="#000080"/>
<path d="M696.22,1480.68 L698.34,1485.7 L703.35,1486.35 L699.64,1490.1 L700.63,1495.51 L696.22,1492.82 L691.81,1495.51 L692.8,1490.1 L689.09,1486.35 L694.1,1485.7Z" fill="#000080"/>
<path d="M781.04,1472.75 L783.16,1477.76 L788.17,1478.41 L784.46,1482.17 L785.45,1487.58 L781.04,1484.88 L776.63,1487.58 L777.62,1482.17 L773.91,1478.41 L778.92,1477.76Z" fill="#000080"/>
<path d="M865.86,1464.02 L867.98,1469.04 L872.99,1469.69 L869.28,1473.44 L870.27,1478.86 L865.86,1476.16 L861.45,1478.86 L862.44,1473.44 L858.73,1469.69 L863.74,1469.04Z" fill="#000080"/>
<path d="M950.68,1458.07 L952.8,1463.09 L957.81,1463.74 L954.1,1467.49 L955.09,1472.91 L950.68,1470.21 L946.27,1472.91 L947.26,1467.49 L943.55,1463.74 L948.56,1463.09Z" fill="#000080"/>
<line x1="261" y1="946.5" x2="338.8" y2="946.5" stroke="#000000" stroke-width="2.4" stroke-linecap="round"/>
<rect x="292.7" y="938.7" width="14.2" height="15.6" fill="#000000"/>
<text x="348.1" y="957" font-size="32.5" fill="#000">SPI3nS/V<tspan font-size="17" dy="12.8">40</tspan></text>
<line x1="261.3" y1="989.1" x2="268.5" y2="989.1" stroke="#FF0000" stroke-width="2.4" stroke-linecap="round"/>
<line x1="276.9" y1="989.1" x2="283.4" y2="989.1" stroke="#FF0000" stroke-width="2.4" stroke-linecap="round"/>
<line x1="292.5" y1="989.1" x2="299" y2="989.1" stroke="#FF0000" stroke-width="2.4" stroke-linecap="round"/>
<line x1="308.1" y1="989.1" x2="315.1" y2="989.1" stroke="#FF0000" stroke-width="2.4" stroke-linecap="round"/>
<line x1="323.7" y1="989.1" x2="331.2" y2="989.1" stroke="#FF0000" stroke-width="2.4" stroke-linecap="round"/>
<ellipse cx="299.8" cy="989.1" rx="8.35" ry="8.65" fill="#FF0000"/>
<text x="348.1" y="999.6" font-size="32.5" fill="#000">SPI2nS/V<tspan font-size="17" dy="12.8">40</tspan></text>
<ellipse cx="261.8" cy="1031.7" rx="1.8" ry="1.4" fill="#00FF00"/>
<ellipse cx="271.4" cy="1031.7" rx="1.8" ry="1.4" fill="#00FF00"/>
<ellipse cx="281" cy="1031.7" rx="1.8" ry="1.4" fill="#00FF00"/>
<ellipse cx="290.6" cy="1031.7" rx="1.8" ry="1.4" fill="#00FF00"/>
<ellipse cx="300.2" cy="1031.7" rx="1.8" ry="1.4" fill="#00FF00"/>
<ellipse cx="309.8" cy="1031.7" rx="1.8" ry="1.4" fill="#00FF00"/>
<ellipse cx="319.4" cy="1031.7" rx="1.8" ry="1.4" fill="#00FF00"/>
<ellipse cx="329" cy="1031.7" rx="1.8" ry="1.4" fill="#00FF00"/>
<ellipse cx="338.6" cy="1031.7" rx="1.8" ry="1.4" fill="#00FF00"/>
<path d="M299.8,1019.7 L310.11,1037.7 L289.49,1037.7Z" fill="#00FF00"/>
<text x="348.1" y="1042.2" font-size="32.5" fill="#000">SPI1nS/V<tspan font-size="17" dy="12.8">40</tspan></text>
<line x1="261" y1="1074.3" x2="338.8" y2="1074.3" stroke="#0000FF" stroke-width="2.4" stroke-linecap="round"/>
<path d="M299.8,1086.1 L309.8,1068.4 L289.8,1068.4Z" fill="#0000FF"/>
<text x="348.1" y="1084.8" font-size="32.5" fill="#000">SPI3nN/V<tspan font-size="17" dy="12.8">40</tspan></text>
<line x1="261.3" y1="1116.9" x2="268.5" y2="1116.9" stroke="#00FFFF" stroke-width="2.4" stroke-linecap="round"/>
<line x1="276.9" y1="1116.9" x2="283.4" y2="1116.9" stroke="#00FFFF" stroke-width="2.4" stroke-linecap="round"/>
<line x1="292.5" y1="1116.9" x2="299" y2="1116.9" stroke="#00FFFF" stroke-width="2.4" stroke-linecap="round"/>
<line x1="308.1" y1="1116.9" x2="315.1" y2="1116.9" stroke="#00FFFF" stroke-width="2.4" stroke-linecap="round"/>
<line x1="323.7" y1="1116.9" x2="331.2" y2="1116.9" stroke="#00FFFF" stroke-width="2.4" stroke-linecap="round"/>
<path d="M299.8,1105.7 L310.8,1116.9 L299.8,1128.1 L288.8,1116.9Z" fill="#00FFFF"/>
<text x="348.1" y="1127.4" font-size="32.5" fill="#000">SPI2nN/V<tspan font-size="17" dy="12.8">40</tspan></text>
<ellipse cx="261.8" cy="1159.5" rx="1.8" ry="1.4" fill="#FF00FF"/>
<ellipse cx="271.4" cy="1159.5" rx="1.8" ry="1.4" fill="#FF00FF"/>
<ellipse cx="281" cy="1159.5" rx="1.8" ry="1.4" fill="#FF00FF"/>
<ellipse cx="290.6" cy="1159.5" rx="1.8" ry="1.4" fill="#FF00FF"/>
<ellipse cx="300.2" cy="1159.5" rx="1.8" ry="1.4" fill="#FF00FF"/>
<ellipse cx="309.8" cy="1159.5" rx="1.8" ry="1.4" fill="#FF00FF"/>
<ellipse cx="319.4" cy="1159.5" rx="1.8" ry="1.4" fill="#FF00FF"/>
<ellipse cx="329" cy="1159.5" rx="1.8" ry="1.4" fill="#FF00FF"/>
<ellipse cx="338.6" cy="1159.5" rx="1.8" ry="1.4" fill="#FF00FF"/>
<path d="M288.1,1159.5 L305.65,1148.67 L305.65,1170.33Z" fill="#FF00FF"/>
<text x="348.1" y="1170" font-size="32.5" fill="#000">SPI1nN/V<tspan font-size="17" dy="12.8">40</tspan></text>
<line x1="261" y1="1202.1" x2="338.8" y2="1202.1" stroke="#008000" stroke-width="2.4" stroke-linecap="round"/>
<path d="M311.8,1202.1 L293.8,1191.36 L293.8,1212.84Z" fill="#008000"/>
<text x="348.1" y="1212.6" font-size="32.5" fill="#000">SPI3nO/V<tspan font-size="17" dy="12.8">40</tspan></text>
<line x1="261.3" y1="1244.7" x2="268.5" y2="1244.7" stroke="#808000" stroke-width="2.4" stroke-linecap="round"/>
<line x1="276.9" y1="1244.7" x2="283.4" y2="1244.7" stroke="#808000" stroke-width="2.4" stroke-linecap="round"/>
<line x1="292.5" y1="1244.7" x2="299" y2="1244.7" stroke="#808000" stroke-width="2.4" stroke-linecap="round"/>
<line x1="308.1" y1="1244.7" x2="315.1" y2="1244.7" stroke="#808000" stroke-width="2.4" stroke-linecap="round"/>
<line x1="323.7" y1="1244.7" x2="331.2" y2="1244.7" stroke="#808000" stroke-width="2.4" stroke-linecap="round"/>
<path d="M299.8,1233.5 L309,1241.24 L305.48,1253.76 L294.12,1253.76 L290.6,1241.24Z" fill="#808000"/>
<text x="348.1" y="1255.2" font-size="32.5" fill="#000">SPI2nO/V<tspan font-size="17" dy="12.8">40</tspan></text>
<ellipse cx="261.8" cy="1287.3" rx="1.8" ry="1.4" fill="#000080"/>
<ellipse cx="271.4" cy="1287.3" rx="1.8" ry="1.4" fill="#000080"/>
<ellipse cx="281" cy="1287.3" rx="1.8" ry="1.4" fill="#000080"/>
<ellipse cx="290.6" cy="1287.3" rx="1.8" ry="1.4" fill="#000080"/>
<ellipse cx="300.2" cy="1287.3" rx="1.8" ry="1.4" fill="#000080"/>
<ellipse cx="309.8" cy="1287.3" rx="1.8" ry="1.4" fill="#000080"/>
<ellipse cx="319.4" cy="1287.3" rx="1.8" ry="1.4" fill="#000080"/>
<ellipse cx="329" cy="1287.3" rx="1.8" ry="1.4" fill="#000080"/>
<ellipse cx="338.6" cy="1287.3" rx="1.8" ry="1.4" fill="#000080"/>
<path d="M299.8,1276.85 L302.61,1283.07 L308.9,1284.07 L304.35,1288.91 L305.43,1295.75 L299.8,1292.52 L294.17,1295.75 L295.25,1288.91 L290.7,1284.07 L296.99,1283.07Z" fill="#000080"/>
<text x="348.1" y="1297.8" font-size="32.5" fill="#000">SPI1nO/V<tspan font-size="17" dy="12.8">40</tspan></text>
<text transform="translate(132.5,1542)" font-size="33" text-anchor="end">0</text>
<text transform="translate(132.5,1462.68)" font-size="33" text-anchor="end">2</text>
<text transform="translate(132.5,1383.36)" font-size="33" text-anchor="end">4</text>
<text transform="translate(132.5,1304.04)" font-size="33" text-anchor="end">6</text>
<text transform="translate(132.5,1224.72)" font-size="33" text-anchor="end">8</text>
<text transform="translate(132.5,1145.4)" font-size="33" text-anchor="end">10</text>
<text transform="translate(132.5,1066.08)" font-size="33" text-anchor="end">12</text>
<text transform="translate(132.5,986.76)" font-size="33" text-anchor="end">14</text>
<text transform="translate(132.5,907.44)" font-size="33" text-anchor="end">16</text>
<text transform="translate(273.12,1591.5)" font-size="32.5" text-anchor="middle">40</text>
<text transform="translate(442.76,1591.5)" font-size="32.5" text-anchor="middle">60</text>
<text transform="translate(612.4,1591.5)" font-size="32.5" text-anchor="middle">80</text>
<text transform="translate(782.04,1591.5)" font-size="32.5" text-anchor="middle">100</text>
<text transform="translate(951.68,1591.5)" font-size="32.5" text-anchor="middle">120</text>
<text transform="translate(437.2,1659) scale(0.9190,1)" font-size="35.65" font-weight="bold">Temperature</text>
<text transform="translate(640.9,1659) scale(0.9190,1)" font-size="35.65" font-weight="bold">(</text>
<text transform="translate(666.5,1659) scale(0.9190,1)" font-size="35.65" font-weight="bold">C)</text>
<ellipse cx="659.65" cy="1633.8" rx="6.2" ry="5.75" fill="none" stroke="#000" stroke-width="3"/>
<text transform="translate(68.7,1411.1) rotate(-90) scale(0.8910,1)" font-size="34" font-weight="bold">Conductivity</text>
<text transform="translate(68.7,1221.7) rotate(-90) scale(0.99,1)" font-size="34" font-weight="bold">σ</text>
<text transform="translate(68.7,1176.4) rotate(-90) scale(0.8980,1)" font-size="34" font-weight="bold">(mS/cm)</text>
<text x="506.5" y="1712.3" font-size="37.3" style="font-family:'Liberation Serif'">(<tspan font-weight="bold">b</tspan>)</text>
</svg>
</body></html>
